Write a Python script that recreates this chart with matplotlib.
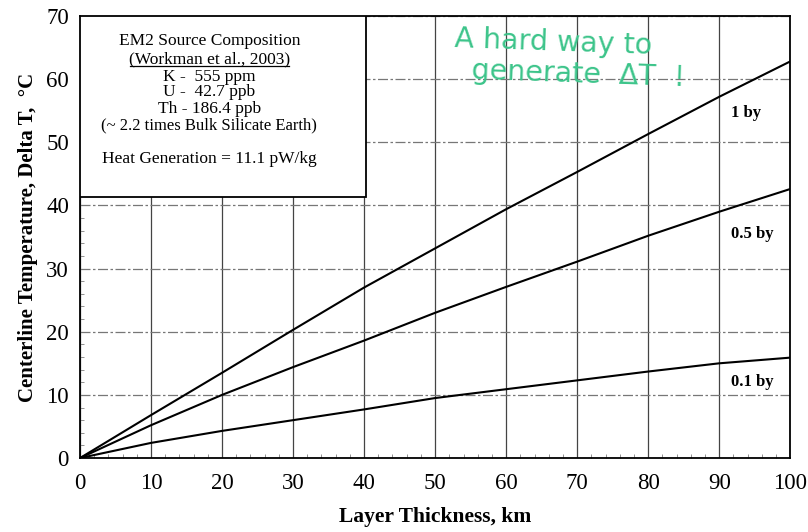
import matplotlib
matplotlib.use('Agg')
import matplotlib.pyplot as pl
from matplotlib.ticker import MultipleLocator

# layer thickness (km) and centerline temperature rise (deg C)
thick = [0, 10, 20, 30, 40, 50, 60, 70, 80, 90, 100]
dT_1by = [0, 6.8, 13.5, 20.3, 27.0, 33.2, 39.4, 45.3, 51.3, 57.2, 62.8]
dT_05by = [0, 5.2, 10.0, 14.4, 18.6, 23.0, 27.1, 31.1, 35.2, 39.0, 42.6]
dT_01by = [0, 2.4, 4.3, 6.0, 7.7, 9.5, 10.9, 12.3, 13.7, 15.0, 15.9]

curve_labels = ['1 by', '0.5 by', '0.1 by']
label_y = [54.6, 35.4, 12.0]

box_lines = ['EM2 Source Composition', '(Workman et al., 2003)', 'K -  555 ppm',
             'U -  42.7 ppb', 'Th - 186.4 ppb', '(~ 2.2 times Bulk Silicate Earth)',
             'Heat Generation = 11.1 pW/kg']
box_y = [66.0, 63.2, 60.4, 58.0, 55.3, 52.6, 47.4]

pl.rcParams['font.family'] = 'Liberation Serif'

fig = pl.figure(figsize=(8.08, 5.32), dpi=100)
ax = fig.add_axes([0.099, 0.139, 0.879, 0.831])

for yv in (dT_1by, dT_05by, dT_01by):
    ax.plot(thick, yv, color='black', lw=1.5)

for lab, yl in zip(curve_labels, label_y):
    ax.text(91.6, yl, lab, fontsize=12, fontweight='bold', va='center', ha='left')

ax.set_xlim(0, 100)
ax.set_ylim(0, 70)
ax.xaxis.set_major_locator(MultipleLocator(10))
ax.yaxis.set_major_locator(MultipleLocator(10))
ax.xaxis.set_minor_locator(MultipleLocator(2))
ax.yaxis.set_minor_locator(MultipleLocator(2))
ax.tick_params(which='both', direction='in', top=False, right=False, labelsize=16.5)
ax.tick_params(which='major', length=0)
ax.tick_params(axis='x', which='major', pad=11)
ax.tick_params(axis='y', which='major', pad=8)
ax.tick_params(which='minor', length=3, color='gray')
ax.grid(which='major', axis='x', color='#444444', lw=0.9)
ax.grid(which='major', axis='y', color='#777777', lw=0.9, ls=(0, (8, 2, 2, 2)))
for s in ax.spines.values():
    s.set_linewidth(1.3)

ax.set_xlabel('Layer Thickness, km', fontsize=15.5, fontweight='bold', labelpad=9)
ax.set_ylabel('Centerline Temperature, Delta T,  \u00b0C', fontsize=15, fontweight='bold', labelpad=6)

# composition box in upper-left corner
box = pl.Rectangle((0, 41.3), 40.3, 28.7, facecolor='white', edgecolor='black',
                   lw=1.3, zorder=3)
ax.add_patch(box)
for t, yy in zip(box_lines, box_y):
    fs = 12 if t.startswith('(~') else 12.5
    ax.text(18.2, yy, t, fontsize=fs, ha='center', va='center', zorder=4)
# underline the reference
ax.plot([7.0, 29.4], [62.0, 62.0], color='black', lw=0.9, zorder=4)

ax.text(52.5, 63.2, 'A hard way to\n  generate  \u0394T  !', fontsize=20.5, color='#3cc48a',
        family='DejaVu Sans', ha='left', va='center', linespacing=1.15, rotation=-2)

fig.savefig('out.png', dpi=100)
